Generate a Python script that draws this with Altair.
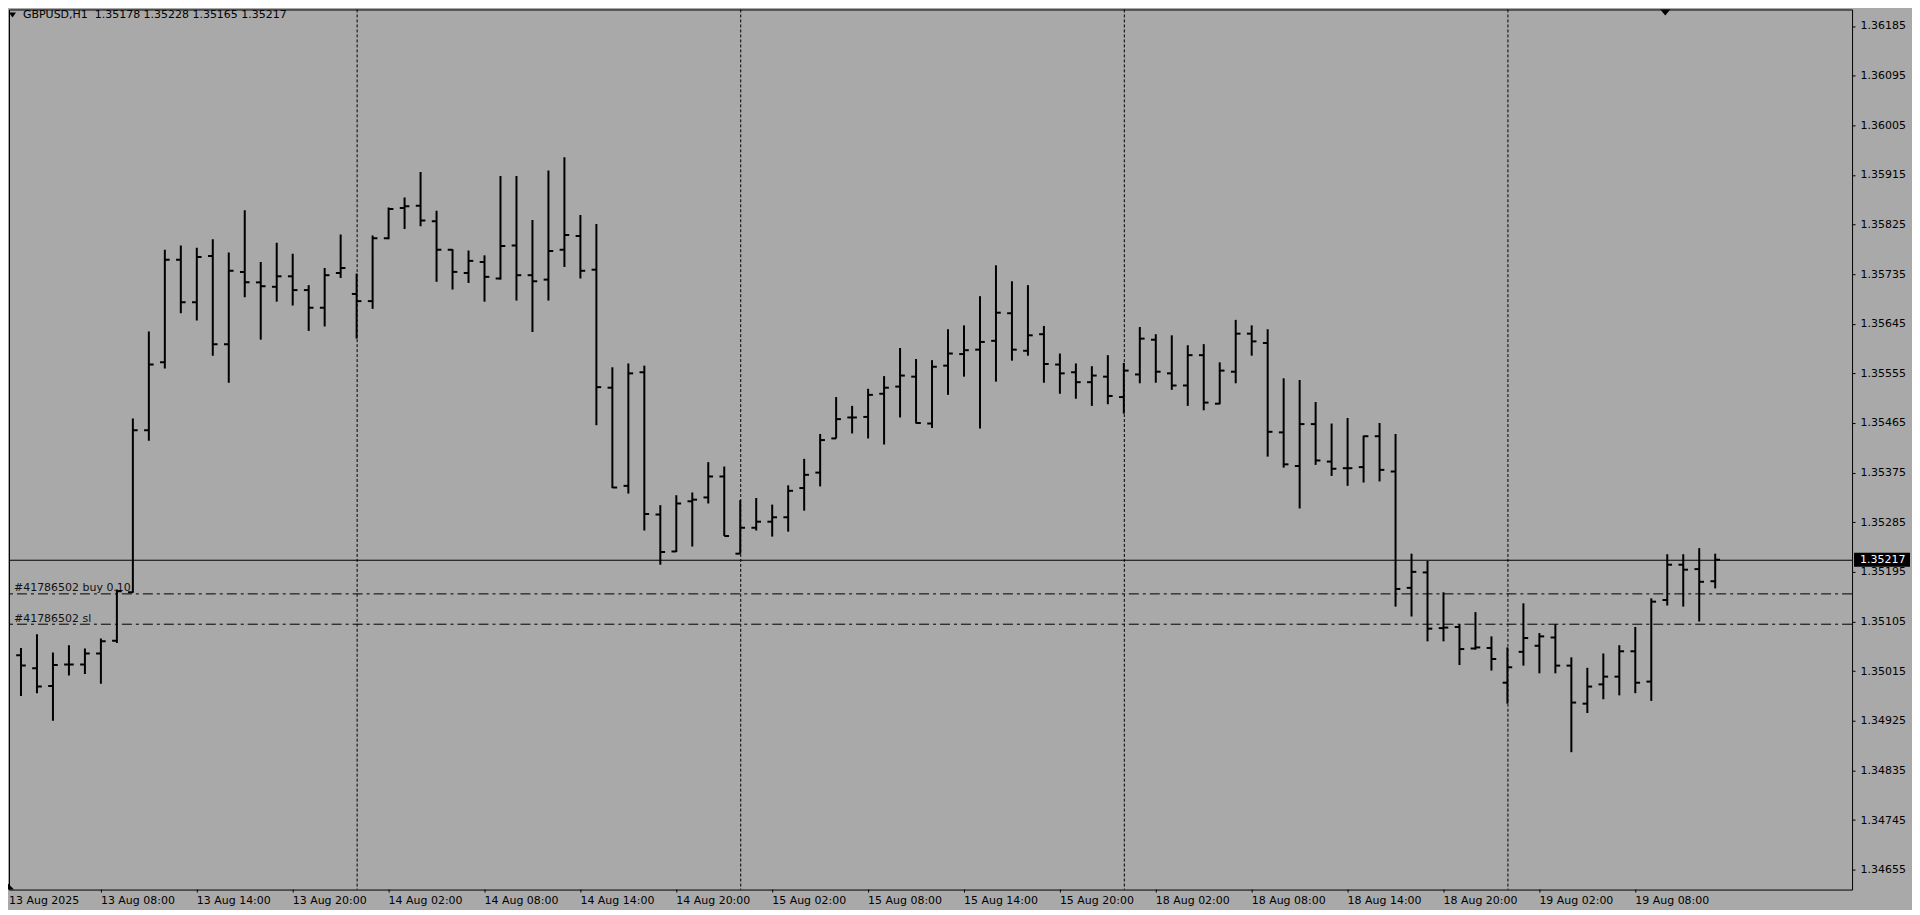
import altair as alt
import pandas as pd

# ---------------- data ----------------
symbol = "GBPUSD,H1"

opens = [1.35035, 1.35044, 1.35020, 1.34988, 1.35027, 1.35027, 1.35047, 1.35070, 1.35158, 1.35452,
         1.35575, 1.35761, 1.35684, 1.35768, 1.35608, 1.35739, 1.35720, 1.35712, 1.35731, 1.35706,
         1.35674, 1.35737, 1.35699, 1.35686, 1.35800, 1.35855, 1.35859, 1.35831, 1.35779, 1.35737,
         1.35757, 1.35727, 1.35787, 1.35733, 1.35725, 1.35779, 1.35804, 1.35743, 1.35529, 1.35351,
         1.35557, 1.35299, 1.35232, 1.35323, 1.35330, 1.35368, 1.35228, 1.35275, 1.35286, 1.35294,
         1.35347, 1.35375, 1.35437, 1.35475, 1.35476, 1.35518, 1.35531, 1.35549, 1.35464, 1.35569,
         1.35590, 1.35598, 1.35614, 1.35664, 1.35596, 1.35626, 1.35571, 1.35557, 1.35539, 1.35549,
         1.35512, 1.35553, 1.35616, 1.35555, 1.35533, 1.35588, 1.35500, 1.35558, 1.35627, 1.35610,
         1.35448, 1.35387, 1.35463, 1.35395, 1.35383, 1.35385, 1.35441, 1.35377, 1.35166, 1.35194,
         1.35093, 1.35095, 1.35056, 1.35057, 1.34994, 1.35050, 1.35061, 1.35076, 1.35025, 1.34956,
         1.34991, 1.35005, 1.35051, 1.34996, 1.35144, 1.35208, 1.35200, 1.35178]

highs = [1.35057, 1.35057, 1.35082, 1.35049, 1.35062, 1.35056, 1.35074, 1.35163, 1.35473, 1.35631,
         1.35779, 1.35787, 1.35783, 1.35798, 1.35774, 1.35851, 1.35757, 1.35792, 1.35772, 1.35715,
         1.35746, 1.35807, 1.35736, 1.35805, 1.35856, 1.35874, 1.35920, 1.35850, 1.35780, 1.35778,
         1.35769, 1.35913, 1.35913, 1.35833, 1.35923, 1.35947, 1.35842, 1.35826, 1.35566, 1.35573,
         1.35569, 1.35316, 1.35334, 1.35339, 1.35394, 1.35386, 1.35325, 1.35329, 1.35317, 1.35352,
         1.35400, 1.35445, 1.35512, 1.35496, 1.35527, 1.35550, 1.35601, 1.35581, 1.35579, 1.35635,
         1.35642, 1.35695, 1.35751, 1.35722, 1.35715, 1.35641, 1.35591, 1.35573, 1.35568, 1.35588,
         1.35574, 1.35639, 1.35626, 1.35624, 1.35606, 1.35608, 1.35575, 1.35652, 1.35642, 1.35635,
         1.35546, 1.35543, 1.35503, 1.35464, 1.35474, 1.35442, 1.35465, 1.35445, 1.35228, 1.35215,
         1.35158, 1.35100, 1.35122, 1.35078, 1.35058, 1.35138, 1.35084, 1.35100, 1.35040, 1.35021,
         1.35047, 1.35062, 1.35095, 1.35147, 1.35227, 1.35227, 1.35238, 1.35228]

lows = [1.34990, 1.34970, 1.34975, 1.34925, 1.35007, 1.35010, 1.34992, 1.35066, 1.35157, 1.35433,
        1.35564, 1.35664, 1.35651, 1.35587, 1.35538, 1.35693, 1.35616, 1.35685, 1.35678, 1.35632,
        1.35640, 1.35728, 1.35618, 1.35672, 1.35798, 1.35817, 1.35822, 1.35721, 1.35707, 1.35719,
        1.35685, 1.35725, 1.35687, 1.35630, 1.35687, 1.35748, 1.35727, 1.35461, 1.35347, 1.35337,
        1.35270, 1.35208, 1.35231, 1.35241, 1.35319, 1.35260, 1.35228, 1.35270, 1.35259, 1.35268,
        1.35306, 1.35350, 1.35437, 1.35446, 1.35437, 1.35426, 1.35475, 1.35464, 1.35456, 1.35516,
        1.35549, 1.35455, 1.35540, 1.35578, 1.35587, 1.35538, 1.35518, 1.35509, 1.35496, 1.35499,
        1.35482, 1.35537, 1.35538, 1.35525, 1.35496, 1.35488, 1.35499, 1.35537, 1.35587, 1.35404,
        1.35384, 1.35310, 1.35389, 1.35369, 1.35351, 1.35357, 1.35359, 1.35132, 1.35114, 1.35069,
        1.35069, 1.35026, 1.35054, 1.35016, 1.34956, 1.35025, 1.35011, 1.35011, 1.34868, 1.34939,
        1.34964, 1.34971, 1.34975, 1.34961, 1.35134, 1.35132, 1.35105, 1.35165]

closes = [1.35044, 1.35025, 1.34987, 1.35026, 1.35027, 1.35047, 1.35069, 1.35160, 1.35452, 1.35571,
          1.35761, 1.35684, 1.35766, 1.35608, 1.35741, 1.35720, 1.35713, 1.35731, 1.35706, 1.35674,
          1.35733, 1.35746, 1.35686, 1.35800, 1.35853, 1.35858, 1.35832, 1.35779, 1.35739, 1.35759,
          1.35730, 1.35786, 1.35733, 1.35722, 1.35777, 1.35806, 1.35741, 1.35530, 1.35348, 1.35555,
          1.35300, 1.35231, 1.35319, 1.35326, 1.35368, 1.35260, 1.35275, 1.35286, 1.35294, 1.35342,
          1.35371, 1.35434, 1.35472, 1.35475, 1.35516, 1.35529, 1.35551, 1.35465, 1.35567, 1.35591,
          1.35597, 1.35612, 1.35665, 1.35598, 1.35624, 1.35572, 1.35555, 1.35539, 1.35551, 1.35514,
          1.35560, 1.35618, 1.35558, 1.35533, 1.35588, 1.35502, 1.35560, 1.35627, 1.35613, 1.35449,
          1.35390, 1.35463, 1.35397, 1.35382, 1.35383, 1.35441, 1.35380, 1.35164, 1.35195, 1.35092,
          1.35094, 1.35055, 1.35058, 1.35037, 1.35022, 1.35075, 1.35078, 1.35025, 1.34958, 1.34987,
          1.35005, 1.35051, 1.34994, 1.35141, 1.35208, 1.35199, 1.35177, 1.35217]

time_labels = ["13 Aug 2025", "13 Aug 08:00", "13 Aug 14:00", "13 Aug 20:00", "14 Aug 02:00",
               "14 Aug 08:00", "14 Aug 14:00", "14 Aug 20:00", "15 Aug 02:00", "15 Aug 08:00",
               "15 Aug 14:00", "15 Aug 20:00", "18 Aug 02:00", "18 Aug 08:00", "18 Aug 14:00",
               "18 Aug 20:00", "19 Aug 02:00", "19 Aug 08:00"]
time_label_bars = [0, 6, 12, 18, 24, 30, 36, 42, 48, 54, 60, 66, 72, 78, 84, 90, 96, 102]
day_separator_bars = [22, 46, 70, 94]

price_ticks = [1.36185, 1.36095, 1.36005, 1.35915, 1.35825, 1.35735, 1.35645, 1.35555, 1.35465,
               1.35375, 1.35285, 1.35195, 1.35105, 1.35015, 1.34925, 1.34835, 1.34745, 1.34655]

last_price = 1.35217
order_prices = [1.35156, 1.35101]
order_labels = ["#41786502 buy 0.10", "#41786502 sl"]

# ---------------- chart ----------------
W, H = 1845, 881
BG = "#A9A9A9"
FONT = "DejaVu Sans"

xs = alt.Scale(domain=[0.25, 115.5625], nice=False, zero=False)
ys = alt.Scale(domain=[1.346189, 1.362149], nice=False, zero=False)
yaxis = alt.Axis(orient="right", values=price_ticks, format=".5f", tickSize=3, tickColor="black",
                 labelPadding=5, labelFont=FONT, labelFontSize=11, labelColor="black",
                 domain=False, grid=False, title=None)

bars = pd.DataFrame({"k": list(range(len(opens))), "open": opens, "high": highs,
                     "low": lows, "close": closes})
base = alt.Chart(bars)

hl = base.mark_rule(color="black", strokeWidth=2, clip=True).encode(
    x=alt.X("k:Q", scale=xs, axis=None),
    y=alt.Y("low:Q", scale=ys, axis=yaxis),
    y2="high:Q",
)
op = base.transform_calculate(kl="datum.k - 0.3").mark_rule(
    color="black", strokeWidth=2, clip=True).encode(
    x=alt.X("kl:Q", scale=xs, axis=None),
    x2="k:Q",
    y=alt.Y("open:Q", scale=ys, axis=yaxis),
)
cl = base.transform_calculate(kr="datum.k + 0.3").mark_rule(
    color="black", strokeWidth=2, clip=True).encode(
    x=alt.X("k:Q", scale=xs, axis=None),
    x2="kr:Q",
    y=alt.Y("close:Q", scale=ys, axis=yaxis),
)

seps = alt.Chart(pd.DataFrame({"k": day_separator_bars})).mark_rule(
    color="black", strokeWidth=1, strokeDash=[3, 2], xOffset=0.5).encode(
    x=alt.X("k:Q", scale=xs, axis=None)
)

price_line = alt.Chart(pd.DataFrame({"p": [last_price]})).mark_rule(
    color="black", strokeWidth=1, yOffset=0.5).encode(
    y=alt.Y("p:Q", scale=ys, axis=yaxis)
)

orders = pd.DataFrame({"p": order_prices, "label": order_labels})
order_lines = alt.Chart(orders).mark_rule(
    color="black", strokeWidth=1, strokeDash=[10, 4, 3, 4], yOffset=0.5).encode(
    y=alt.Y("p:Q", scale=ys, axis=yaxis)
)
order_text = alt.Chart(orders).mark_text(
    align="left", baseline="alphabetic", dy=-2, font=FONT, fontSize=11, color="#111111").encode(
    x=alt.value(5),
    y=alt.Y("p:Q", scale=ys, axis=yaxis),
    text="label:N",
)

tag = pd.DataFrame({"p": [last_price], "txt": [f"{last_price:.5f}"]})
tag_rect = alt.Chart(tag).transform_calculate(
    hi="datum.p + 0.000127", lo="datum.p - 0.000127").mark_rect(color="black").encode(
    x=alt.value(W + 2), x2=alt.value(W + 58),
    y=alt.Y("hi:Q", scale=ys, axis=yaxis), y2="lo:Q",
)
tag_text = alt.Chart(tag).mark_text(
    align="left", baseline="middle", font=FONT, fontSize=11, color="white").encode(
    x=alt.value(W + 8),
    y=alt.Y("p:Q", scale=ys, axis=yaxis),
    text="txt:N",
)

ticks_df = pd.DataFrame({"k": time_label_bars, "label": time_labels})
x_ticks = alt.Chart(ticks_df).mark_rule(color="black", strokeWidth=1, xOffset=0.5).encode(
    x=alt.X("k:Q", scale=xs, axis=None), y=alt.value(H), y2=alt.value(H + 3)
)
x_labels = alt.Chart(ticks_df).transform_calculate(kx="max(datum.k, 0.25)").mark_text(
    align="left", baseline="middle", font=FONT, fontSize=11, color="black").encode(
    x=alt.X("kx:Q", scale=xs, axis=None), y=alt.value(H + 11.7), text="label:N"
)

title_str = (f"{symbol}\u00a0 {opens[-1]:.5f} {highs[-1]:.5f} "
             f"{lows[-1]:.5f} {closes[-1]:.5f}")
one = pd.DataFrame({"t": [title_str]})
title_text = alt.Chart(one).mark_text(
    align="left", baseline="middle", font=FONT, fontSize=11, color="black").encode(
    x=alt.value(14), y=alt.value(5.7), text="t:N"
)
title_tri = alt.Chart(one).mark_point(
    shape="M-1,-0.7L1,-0.7L0,0.7Z", size=49, filled=True, color="black", opacity=1).encode(
    x=alt.value(3.5), y=alt.value(5.5)
)
shift_tri = alt.Chart(one).mark_point(
    shape="M-1,-0.6L1,-0.6L0,0.6Z", size=100, filled=True, color="black", opacity=1).encode(
    x=alt.value(1658), y=alt.value(3)
)
corner_tri = alt.Chart(one).mark_point(
    shape="M-1,-1L1,1L-1,1Z", size=36, filled=True, color="black", opacity=1).encode(
    x=alt.value(2), y=alt.value(H - 3)
)

chart = alt.layer(
    seps, price_line, order_lines, order_text, hl, op, cl,
    tag_rect, tag_text, x_ticks, x_labels, title_tri, title_text, shift_tri, corner_tri,
).properties(
    width=W, height=H,
    autosize=alt.AutoSizeParams(type="none"),
    padding={"left": 1, "top": 1, "right": 60, "bottom": 20},
    background=BG,
).configure_view(fill=BG, stroke="black", strokeWidth=1)

chart.save("out.html", embed_options={"renderer": "svg", "actions": False})
